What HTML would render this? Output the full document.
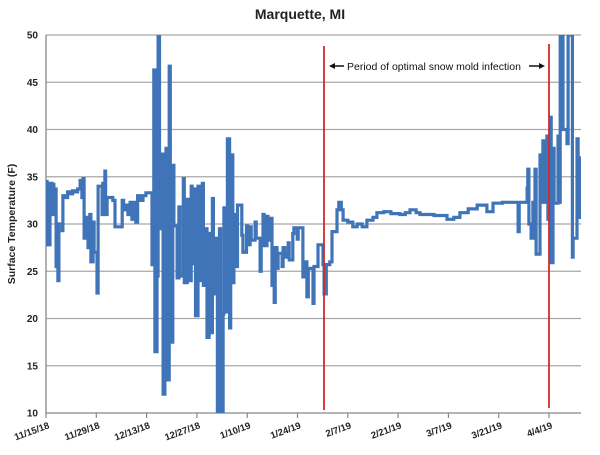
<!DOCTYPE html>
<html><head><meta charset="utf-8"><style>
body{margin:0;background:#fff;font-family:"Liberation Sans",sans-serif}
svg text{font-family:"Liberation Sans",sans-serif}
</style></head><body>
<svg width="600" height="450" viewBox="0 0 600 450">
<text x="300" y="19" text-anchor="middle" font-size="14" font-weight="bold" fill="#222">Marquette, MI</text>
<g id="grid"></g><g id="yt"></g><g id="xt"></g>
<text transform="translate(15,224) rotate(-90)" text-anchor="middle" font-size="10.5" font-weight="bold" fill="#222">Surface Temperature (F)</text>
<g id="series"></g>
<line x1="324" y1="46" x2="324" y2="410" stroke="#d42a2a" stroke-width="1.8"/>
<line x1="549" y1="44" x2="549" y2="408" stroke="#d42a2a" stroke-width="1.8"/>
<text x="347" y="70" font-size="10.5" fill="#111">Period of optimal snow mold infection</text>
<g stroke="#111" stroke-width="1.5" fill="#111">
<line x1="333" y1="66" x2="344" y2="66"/><polygon points="329,66 335,63 335,69" stroke="none"/>
<line x1="529" y1="66" x2="540" y2="66"/><polygon points="545,66 539,63 539,69" stroke="none"/>
</g>
</svg>
<script>
const yTicks=[10,15,20,25,30,35,40,45,50];
const xTickLabels=["11/15/18","11/29/18","12/13/18","12/27/18","1/10/19","1/24/19","2/7/19","2/21/19","3/7/19","3/21/19","4/4/19"];
const xTickDays=[0,14,28,42,56,70,84,98,112,126,140];
const days=[0,0.3,1.1,1.7,1.9,2.2,2.5,2.8,3.3,3.6,4.5,4.7,5.3,6.0,6.7,7.4,8.1,8.8,9.5,10.0,10.3,10.6,11.4,11.7,12.2,12.5,13.1,13.4,14.2,14.5,15.6,15.8,16.4,16.6,17.0,18.6,19.2,21.2,21.6,22.2,22.8,23.4,23.9,24.4,25.0,25.5,26.2,27.0,27.8,29.5,30.0,30.3,30.9,31.2,31.6,32.3,32.6,33.1,33.4,33.7,34.3,34.6,35.3,35.6,36.5,37.0,37.3,38.2,38.5,39.3,39.6,40.4,40.7,41.3,41.6,42.3,42.6,43.5,43.8,44.5,44.8,45.4,45.7,46.3,46.6,47.4,47.7,48.3,48.6,49.3,49.5,50.2,50.5,51.1,51.4,52.0,52.3,53.0,53.3,54.5,54.8,55.8,56.1,56.8,57.1,58.2,58.5,59.6,59.9,60.4,60.7,61.5,61.8,62.6,62.9,63.5,63.8,64.3,64.6,65.7,66.0,66.5,67.0,67.4,67.7,68.7,69.0,69.9,70.2,71.5,71.8,72.6,73.0,74.3,74.6,75.7,77.1,77.4,78.0,79.0,79.6,81.0,81.5,82.2,82.7,84.0,85.4,86.6,88.0,89.3,91.0,92.1,94.0,96.0,98.5,100.0,101.3,103.0,104.1,108.0,111.6,113.5,115.2,117.5,120.0,122.7,124.4,127.0,131.4,131.7,133.9,134.1,134.4,135.0,135.5,136.1,136.4,137.5,137.8,138.3,138.6,139.4,139.7,140.3,140.6,141.1,141.4,142.5,142.8,143.1,143.9,145.0,145.3,146.4,146.5,146.7,147.8,148.1,148.6,148.9];
const temps=[34.5,27.8,34.3,31,34.2,31,33.7,25.5,24,30,29.3,33,32.8,33.4,33.2,33.5,33.4,33.7,34.6,32.8,34.8,28.5,30.7,27.5,31,26,30.2,27,22.7,34,31,34.3,35.6,31,32.8,32.5,29.7,32.5,31.5,32,31,32.3,30.5,32.3,30.2,33,32.5,33,33.3,25.7,46.3,16.5,24.5,50,29.5,37.4,12,22.6,38,13.5,46.7,17.5,36.2,29.8,24.3,31.8,24.5,34.8,23.8,32.6,24,34,25.8,33.7,20.3,34,24,34.3,23.5,29.5,18,29,18.5,32.7,22.6,28.5,10,29.5,10,20.5,31.7,20.7,39,19,37.3,23.8,31,25.5,32,28.8,27,29.8,27.8,29.7,28.3,30.2,28.5,25,28,31,27.7,30.8,28.3,30.6,23.5,21.7,27.5,25.3,26.9,25.5,27.5,26.5,27,28,26.2,29,29.6,28.4,29.6,24.4,26,22.3,25.3,21.6,25.5,27.8,25.7,22.6,25.7,26,29.2,31.5,32.3,31.5,30.4,30.2,29.7,30,29.7,30.4,30.7,31.2,31.3,31.1,31,31.2,31.5,31.2,31,30.9,30.5,30.7,31.2,31.6,32,31.3,32.2,32.3,29.2,32.3,33.8,35.8,30,28.5,32.3,35.8,26.8,37.3,32.3,38.8,32.3,39.3,30.5,41.3,25.9,38,32.2,39.3,32.3,50,40,38.5,50,50,26.5,28.5,39,37,30.7,37];
const X0=46,X1=581,Y0=413,Y1=35,PXD=3.593;
const xs=d=>X0+d*PXD;
const ys=v=>Y0-(v-10)/40*(Y0-Y1);
const NS="http://www.w3.org/2000/svg";
function mk(tag,attrs,parent){const e=document.createElementNS(NS,tag);for(const k in attrs)e.setAttribute(k,attrs[k]);parent.appendChild(e);return e;}
const grid=document.getElementById('grid'),yt=document.getElementById('yt'),xt=document.getElementById('xt'),ser=document.getElementById('series');
yTicks.forEach(v=>{
  const l=mk('line',{x1:X0,x2:X1,y1:ys(v),y2:ys(v),stroke:v===10?'#888':'#a8a8a8','stroke-width':1.3},grid);
  
  
  const t=mk('text',{x:38,y:ys(v)+3.5,'text-anchor':'end','font-size':10,'font-weight':'bold',fill:'#222'},yt);
  t.textContent=v;
  
  
});
const ax=mk('line',{x1:X0,x2:X0,y1:Y1,y2:Y0,stroke:'#888','stroke-width':1.3},grid);


xTickDays.forEach((d,i)=>{
  const x=xs(d);
  const tk=mk('line',{x1:x,x2:x,y1:Y0,y2:Y0+5,stroke:'#888','stroke-width':1.2},xt);
  
  
  const t=mk('text',{transform:`translate(${x+4},${Y0+15}) rotate(-20)`,'text-anchor':'end','font-size':9.5,'font-weight':'bold',fill:'#222'},xt);
  t.textContent=xTickLabels[i];
  
  
});
mk('clipPath',{id:'clip'},ser).appendChild(document.createElementNS(NS,'rect'));
const cr=ser.querySelector('rect');cr.setAttribute('x',X0);cr.setAttribute('y',Y1);cr.setAttribute('width',X1-X0);cr.setAttribute('height',Y0-Y1);
let d='M'+xs(days[0])+','+ys(temps[0]);
for(let i=1;i<days.length;i++){d+=' H'+xs(days[i]).toFixed(1)+' V'+ys(temps[i]).toFixed(1);}
const p=mk('path',{d:d,fill:'none',stroke:'#3f74b8','stroke-width':3.2,'stroke-linejoin':'miter','clip-path':'url(#clip)'},ser);


</script>
</body></html>
